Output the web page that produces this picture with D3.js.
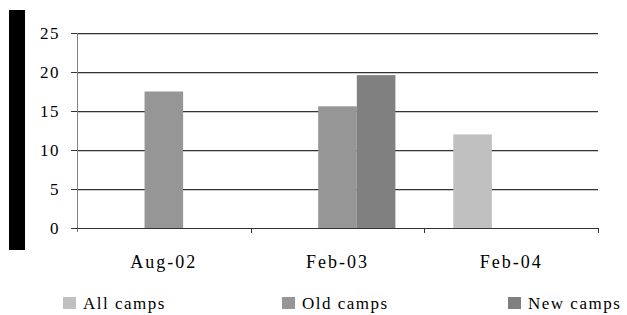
<!DOCTYPE html>
<html>
<head>
<meta charset="utf-8">
<script src="https://cdn.jsdelivr.net/npm/d3@7"></script>
<style>
  body { margin: 0; background: #fff; }
  text { font-family: "Liberation Serif", serif; font-size: 17px; letter-spacing: 1.5px; fill: #000; }
  text.categorie { font-size: 18px; letter-spacing: 2px; }
</style>
</head>
<body>
<svg id="chart" width="627" height="315"></svg>
<script>
// donnees
let categories = ["Aug-02", "Feb-03", "Feb-04"];
let series = ["All camps", "Old camps", "New camps"];
let allCamps = [null, null, 12];
let oldCamps = [17.5, 15.6, null];
let newCamps = [null, 19.6, null];
let yTicks = [0, 5, 10, 15, 20, 25];

let couleurs = ["#c0c0c0", "#969696", "#808080"];
let valeurs = [allCamps, oldCamps, newCamps];

let svg = d3.select("#chart");
let gauche = 77, droite = 598, haut = 33, bas = 228;

// barre noire a gauche
svg.append("rect")
    .attr("x", 9).attr("y", 10)
    .attr("width", 16).attr("height", 240)
    .attr("fill", "black");

let x0 = d3.scaleBand().domain(categories).range([gauche, droite]).padding(0);
let x1 = d3.scaleBand().domain(series).range([0, x0.bandwidth()]).paddingInner(0).paddingOuter(0.75);
let y = d3.scaleLinear().domain([0, 25]).range([bas, haut]);

// lignes de grille
let grille = svg.append("g");
grille.selectAll(".ombre")
    .data(yTicks.filter(d => d > 0))
    .join("line")
    .attr("class", "ombre")
    .attr("x1", gauche).attr("x2", droite)
    .attr("y1", d => Math.round(y(d)) + 1.5).attr("y2", d => Math.round(y(d)) + 1.5)
    .attr("stroke", "#c8c8c8");
grille.selectAll(".ligne")
    .data(yTicks)
    .join("line")
    .attr("class", "ligne")
    .attr("x1", gauche - 6).attr("x2", droite)
    .attr("y1", d => Math.round(y(d)) + 0.5).attr("y2", d => Math.round(y(d)) + 0.5)
    .attr("stroke", "#333");

// barres
let table = [];
categories.forEach((c, i) => {
    series.forEach((s, j) => {
        if (valeurs[j][i] != null) table.push({ cat: c, serie: s, v: valeurs[j][i], couleur: couleurs[j] });
    });
});

svg.append("g").selectAll("rect")
    .data(table)
    .join("rect")
    .attr("x", d => x0(d.cat) + x1(d.serie))
    .attr("width", x1.bandwidth())
    .attr("y", d => y(d.v))
    .attr("height", d => y(0) - y(d.v))
    .attr("fill", d => d.couleur);

// axe vertical
svg.append("line")
    .attr("x1", gauche + 0.5).attr("x2", gauche + 0.5)
    .attr("y1", haut).attr("y2", bas + 4)
    .attr("stroke", "#808080");

// axe horizontal
svg.append("line")
    .attr("x1", gauche).attr("x2", droite)
    .attr("y1", bas + 0.5).attr("y2", bas + 0.5)
    .attr("stroke", "#333");

let bords = categories.map(c => x0(c)).concat([droite]);
svg.append("g").selectAll("line")
    .data(bords.slice(1))
    .join("line")
    .attr("x1", d => Math.round(d) + 0.5).attr("x2", d => Math.round(d) + 0.5)
    .attr("y1", bas).attr("y2", bas + 5)
    .attr("stroke", "#333");

// etiquettes axe y
svg.append("g").selectAll("text")
    .data(yTicks)
    .join("text")
    .attr("x", 60)
    .attr("y", d => y(d) + 6)
    .attr("text-anchor", "end")
    .text(d => d);

// etiquettes categories
svg.append("g").selectAll("text")
    .data(categories)
    .join("text")
    .attr("class", "categorie")
    .attr("x", d => x0(d) + x0.bandwidth() / 2)
    .attr("y", 268)
    .attr("text-anchor", "middle")
    .text(d => d);

// legende
let legendeX = [63, 282, 508];
let legende = svg.append("g").selectAll("g")
    .data(series)
    .join("g")
    .attr("transform", (d, i) => `translate(${legendeX[i]},0)`);
legende.append("rect")
    .attr("x", 0).attr("y", 297)
    .attr("width", 13).attr("height", 12)
    .attr("fill", (d, i) => couleurs[i]);
legende.append("text")
    .attr("x", 20).attr("y", 309)
    .text(d => d);
</script>
</body>
</html>
